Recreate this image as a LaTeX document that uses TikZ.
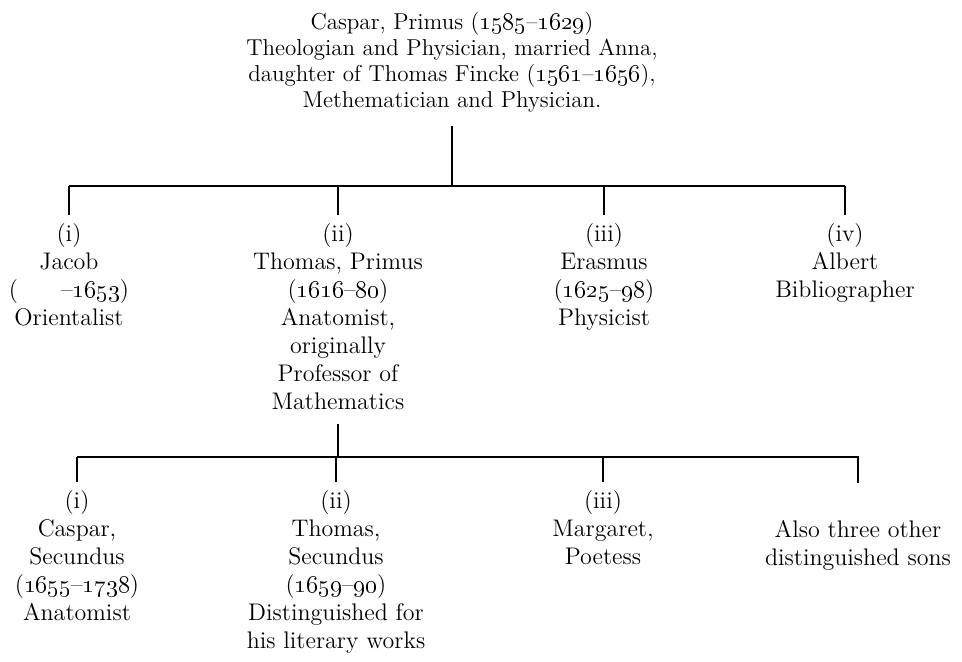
\documentclass[tikz,border=0pt]{standalone}
\usetikzlibrary{positioning,calc}
\newcommand{\yr}[1]{\oldstylenums{#1}}

\begin{document}
\begin{tikzpicture}[x=0.5pt,y=-0.5pt,
                    person/.style={align=center,inner sep=0pt,anchor=north,
                                   font=\fontsize{12}{14}\selectfont},
                    line/.style={line width=1.3pt}
                   ]
  \useasboundingbox (0,0) rectangle (962,662);

  \node[person,font=\fontsize{11.5}{13}\selectfont] (caspar) at (452,12)
    {Caspar, Primus (\yr{1585}--\yr{1629})\\
     Theologian and Physician, married Anna,\\
     daughter of Thomas Fincke (\yr{1561}--\yr{1656}),\\
     Methematician and Physician.};

  % first generation
  \node[person] (jacob)   at (69,223)  {(i)\\ Jacob\\ (\hspace{1.8em}--\yr{1653})\\ Orientalist};
  \node[person] (thomas)  at (338,223) {(ii)\\ Thomas, Primus\\ (\yr{1616}--\yr{80})\\ Anatomist,\\ originally\\ Professor of\\ Mathematics};
  \node[person] (erasmus) at (604,223) {(iii)\\ Erasmus\\ (\yr{1625}--\yr{98})\\ Physicist};
  \node[person] (albert)  at (845,223) {(iv)\\ Albert\\ Bibliographer};

  % second generation
  \node[person] (caspartwo) at (77,490)  {(i)\\ Caspar,\\ Secundus\\ (\yr{1655}--\yr{1738})\\ Anatomist};
  \node[person] (thomastwo) at (336,490) {(ii)\\ Thomas,\\ Secundus\\ (\yr{1659}--\yr{90})\\ Distinguished for\\ his literary works};
  \node[person] (margaret)  at (603,490) {(iii)\\ Margaret,\\ Poetess};
  \node[person] (others)    at (858,520) {Also three other\\ distinguished sons};

  \coordinate (barAl) at (69,186);
  \coordinate (barAr) at (845,186);
  \coordinate (barBl) at (77,457);
  \coordinate (barBr) at (859,457);

  \draw[line] (barAl) -- (barAr);
  \draw[line,shorten <=6.5pt] (caspar.south) -- (caspar.south |- barAl);
  \foreach \n in {jacob,thomas,erasmus,albert}
    \draw[line,shorten >=4pt] (\n.north |- barAl) -- (\n.north);

  \draw[line] (barBl) -- (barBr);
  \draw[line,shorten <=7pt] (thomas.south) -- (thomas.south |- barBl);
  \foreach \n in {caspartwo,thomastwo,margaret}
    \draw[line,shorten >=4pt] (\n.north |- barBl) -- (\n.north);
  \draw[line,shorten >=18.5pt] (others.north |- barBl) -- (others.north);
\end{tikzpicture}
\end{document}
